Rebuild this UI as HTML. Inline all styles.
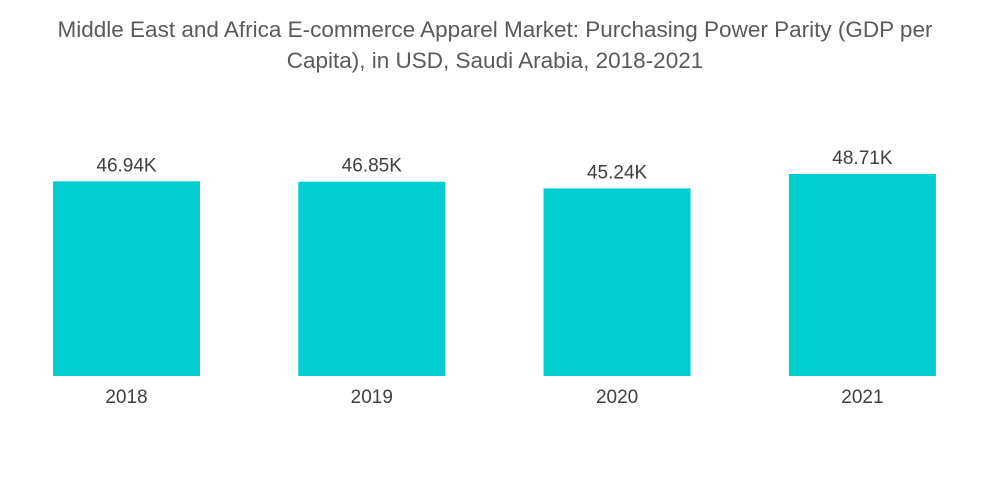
<!DOCTYPE html>
<html><head><meta charset="utf-8"><style>
body{margin:0;background:#fff;width:1000px;height:504px;overflow:hidden;font-family:"Liberation Sans",sans-serif}
#title{position:absolute;left:0;top:14px;width:990px;text-align:center;color:#5a5a5a;font-size:22.5px;line-height:31px}
</style></head><body>
<div id="title">Middle East and Africa E-commerce Apparel Market: Purchasing Power Parity (GDP per<br>Capita), in USD, Saudi Arabia, 2018-2021</div>
<svg id="chart" width="1000" height="504" style="position:absolute;left:0;top:0"></svg>
<script>
const categories=["2018","2019","2020","2021"];
const values=[46.94,46.85,45.24,48.71];
const valueLabels=["46.94K","46.85K","45.24K","48.71K"];
const svg=document.getElementById('chart');
const ns='http://www.w3.org/2000/svg';
const baseY=376, pxPerUnit=4.147, x0=53, step=245.3, barW=147;
function y(v){return baseY-v*pxPerUnit;}
function x(i){return x0+i*step;}
categories.forEach((c,i)=>{
  const r=document.createElementNS(ns,'rect');
  r.setAttribute('x',x(i));r.setAttribute('y',y(values[i]));
  r.setAttribute('width',barW);r.setAttribute('height',baseY-y(values[i]));
  r.setAttribute('fill','#00ced1');
  
  
  svg.appendChild(r);
  const t=document.createElementNS(ns,'text');
  t.setAttribute('x',x(i)+barW/2);t.setAttribute('y',y(values[i])-10);
  t.setAttribute('text-anchor','middle');t.setAttribute('font-size','19');t.setAttribute('fill','#404040');
  t.setAttribute('font-family','Liberation Sans, sans-serif');
  t.textContent=valueLabels[i];
  
  
  svg.appendChild(t);
  const l=document.createElementNS(ns,'text');
  l.setAttribute('x',x(i)+barW/2);l.setAttribute('y',403);
  l.setAttribute('text-anchor','middle');l.setAttribute('font-size','19');l.setAttribute('fill','#404040');
  l.setAttribute('font-family','Liberation Sans, sans-serif');
  l.textContent=c;
  
  
  svg.appendChild(l);
});
</script>
</body></html>
